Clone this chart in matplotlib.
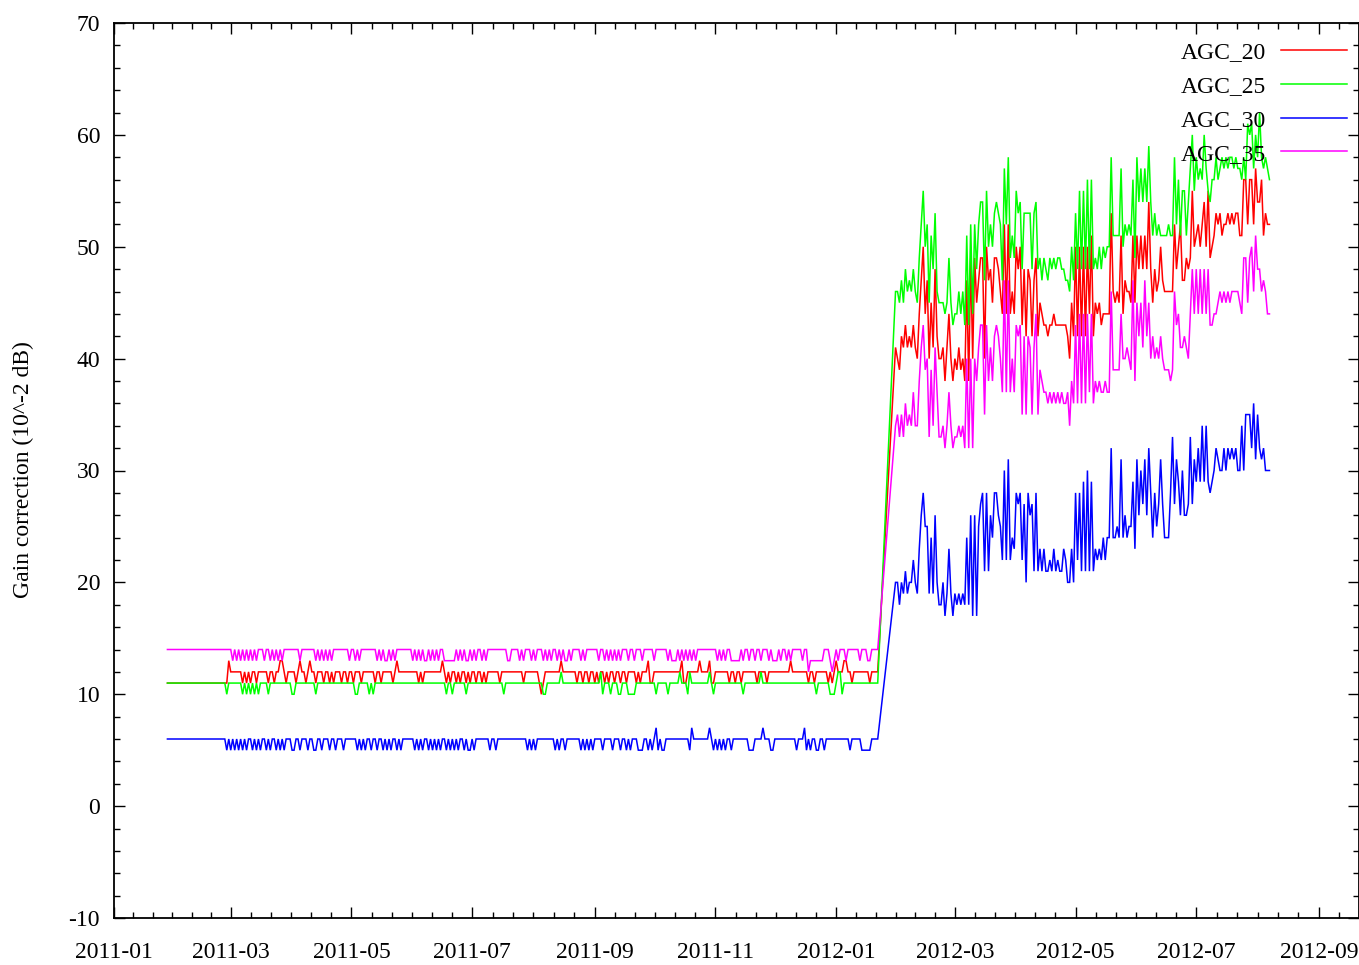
import numpy as np
import matplotlib
matplotlib.use("Agg")
import matplotlib.pyplot as plt
import matplotlib.dates as mdates
from matplotlib.ticker import FixedLocator

plt.rcParams['font.family'] = ['Liberation Serif', 'DejaVu Serif']
plt.rcParams['axes.unicode_minus'] = False

# ---------------------------------------------------------------------------
# Gain correction per AGC setting (10^-2 dB)
# one isolated sample, a daily quiet period, then a daily active period
# ---------------------------------------------------------------------------
first_day = '2011-01-28'
quiet_start = '2011-02-26'
active_start = '2012-01-31'

series_names = ['AGC_20', 'AGC_25', 'AGC_30', 'AGC_35']
series_colors = ['#ff0000', '#00ff00', '#0000ff', '#ff00ff']

agc20_first = 11
agc25_first = 11
agc30_first = 6
agc35_first = 14

agc20_quiet = [
    11, 11, 13, 12, 12, 12, 12, 12, 12, 11,
    12, 11, 12, 11, 12, 12, 11, 12, 12, 12,
    12, 12, 11, 12, 12, 11, 12, 12, 13, 13,
    12, 11, 12, 12, 12, 12, 11, 12, 13, 12,
    12, 11, 12, 13, 12, 12, 11, 12, 12, 12,
    11, 12, 12, 11, 12, 11, 12, 12, 12, 11,
    12, 12, 11, 12, 12, 11, 12, 12, 12, 11,
    12, 12, 12, 12, 12, 12, 11, 12, 12, 11,
    12, 12, 12, 12, 12, 11, 12, 13, 12, 12,
    12, 12, 12, 12, 12, 12, 12, 12, 11, 12,
    11, 12, 12, 12, 12, 12, 12, 12, 12, 12,
    13, 12, 11, 12, 11, 12, 12, 11, 12, 11,
    12, 12, 11, 12, 11, 12, 12, 11, 12, 12,
    11, 12, 11, 12, 12, 12, 12, 12, 12, 11,
    12, 12, 12, 12, 12, 12, 12, 12, 12, 12,
    12, 11, 12, 12, 12, 12, 12, 12, 12, 11,
    10, 11, 12, 12, 12, 12, 12, 12, 12, 12,
    13, 12, 12, 12, 12, 12, 12, 12, 11, 12,
    12, 11, 12, 12, 11, 12, 12, 11, 12, 11,
    12, 12, 11, 12, 11, 12, 12, 11, 12, 12,
    11, 12, 12, 11, 12, 12, 12, 12, 11, 12,
    11, 12, 12, 12, 13, 11, 11, 12, 12, 12,
    12, 12, 12, 12, 12, 12, 12, 12, 12, 12,
    12, 13, 11, 11, 12, 12, 12, 12, 12, 12,
    13, 12, 12, 12, 12, 13, 11, 11, 12, 12,
    12, 12, 12, 12, 12, 11, 12, 12, 11, 12,
    12, 11, 12, 12, 12, 12, 12, 12, 12, 11,
    12, 12, 12, 12, 11, 12, 12, 12, 12, 12,
    12, 12, 12, 12, 12, 12, 13, 12, 12, 12,
    12, 12, 12, 12, 12, 11, 12, 12, 11, 12,
    12, 12, 12, 12, 12, 11, 12, 11, 12, 13,
    12, 12, 12, 13, 13, 12, 12, 11, 12, 12,
    12, 12, 12, 12, 12, 12, 11, 12, 12, 12,
    12,
]

agc25_quiet = [
    11, 10, 11, 11, 11, 11, 11, 11, 11, 10,
    11, 10, 11, 10, 11, 10, 11, 10, 11, 11,
    11, 11, 10, 11, 11, 11, 11, 11, 11, 11,
    11, 11, 11, 11, 10, 10, 11, 11, 11, 11,
    11, 11, 11, 11, 11, 11, 10, 11, 11, 11,
    11, 11, 11, 11, 11, 11, 11, 11, 11, 11,
    11, 11, 11, 11, 11, 11, 10, 10, 11, 11,
    11, 11, 11, 10, 11, 10, 11, 11, 11, 11,
    11, 11, 11, 11, 11, 11, 11, 11, 11, 11,
    11, 11, 11, 11, 11, 11, 11, 11, 11, 11,
    11, 11, 11, 11, 11, 11, 11, 11, 11, 11,
    11, 11, 10, 11, 11, 10, 11, 11, 11, 11,
    11, 11, 10, 11, 11, 11, 11, 11, 11, 11,
    11, 11, 11, 11, 11, 11, 11, 11, 11, 11,
    11, 10, 11, 11, 11, 11, 11, 11, 11, 11,
    11, 11, 11, 11, 11, 11, 11, 11, 11, 11,
    11, 10, 10, 11, 11, 11, 11, 11, 11, 11,
    12, 11, 11, 11, 11, 11, 11, 11, 11, 11,
    11, 11, 11, 11, 11, 11, 11, 11, 11, 11,
    12, 10, 11, 11, 11, 10, 11, 11, 11, 10,
    10, 11, 11, 11, 10, 10, 10, 10, 11, 11,
    11, 11, 11, 11, 11, 11, 11, 11, 10, 11,
    11, 11, 11, 11, 10, 11, 11, 11, 11, 11,
    12, 11, 11, 11, 10, 12, 11, 11, 11, 11,
    11, 11, 11, 11, 11, 12, 11, 10, 11, 11,
    11, 11, 11, 11, 11, 11, 11, 11, 11, 11,
    11, 11, 10, 11, 11, 11, 11, 11, 11, 11,
    11, 12, 11, 11, 11, 11, 11, 11, 11, 11,
    11, 11, 11, 11, 11, 11, 11, 11, 11, 11,
    11, 11, 11, 11, 11, 11, 11, 11, 11, 10,
    11, 11, 11, 11, 11, 11, 10, 10, 10, 11,
    12, 12, 10, 11, 11, 11, 11, 11, 11, 11,
    11, 11, 11, 11, 11, 11, 11, 11, 11, 11,
    11,
]

agc30_quiet = [
    6, 5, 6, 5, 6, 5, 6, 5, 6, 5,
    6, 5, 6, 6, 5, 6, 5, 6, 5, 6,
    6, 5, 6, 5, 6, 6, 5, 6, 5, 6,
    5, 6, 6, 6, 5, 5, 6, 6, 5, 6,
    6, 6, 5, 6, 6, 5, 5, 6, 6, 5,
    6, 6, 6, 5, 6, 6, 5, 6, 6, 6,
    5, 6, 6, 6, 6, 6, 6, 5, 6, 5,
    6, 5, 6, 6, 5, 6, 6, 5, 6, 6,
    5, 6, 5, 6, 5, 6, 6, 5, 6, 5,
    6, 6, 6, 6, 6, 6, 5, 6, 5, 6,
    5, 6, 6, 5, 6, 5, 6, 5, 6, 5,
    6, 6, 5, 6, 5, 6, 5, 6, 5, 6,
    6, 5, 6, 5, 5, 6, 5, 6, 6, 6,
    6, 6, 6, 6, 5, 6, 6, 5, 6, 6,
    6, 6, 6, 6, 6, 6, 6, 6, 6, 6,
    6, 6, 6, 5, 6, 5, 6, 5, 6, 6,
    6, 6, 6, 6, 6, 6, 6, 5, 6, 5,
    6, 6, 5, 6, 6, 6, 6, 6, 6, 6,
    5, 6, 5, 6, 5, 6, 5, 6, 6, 6,
    6, 5, 6, 6, 6, 6, 5, 6, 6, 6,
    5, 6, 6, 5, 6, 5, 6, 6, 6, 5,
    5, 5, 6, 6, 5, 6, 5, 6, 7, 5,
    6, 5, 5, 6, 6, 6, 6, 6, 6, 6,
    6, 6, 6, 6, 6, 5, 7, 6, 6, 6,
    6, 6, 6, 6, 6, 7, 6, 5, 6, 5,
    6, 5, 6, 5, 6, 6, 5, 6, 6, 6,
    6, 6, 6, 6, 6, 5, 5, 5, 6, 6,
    6, 6, 7, 6, 6, 6, 5, 5, 6, 6,
    6, 6, 6, 6, 6, 6, 6, 6, 6, 5,
    6, 6, 6, 7, 5, 6, 5, 6, 6, 5,
    5, 6, 6, 5, 6, 6, 6, 6, 6, 6,
    6, 6, 6, 6, 6, 6, 5, 6, 6, 6,
    6, 6, 5, 5, 5, 5, 5, 6, 6, 6,
    6,
]

agc35_quiet = [
    14, 14, 14, 14, 13, 14, 13, 14, 13, 14,
    13, 14, 13, 14, 13, 14, 13, 14, 14, 14,
    13, 14, 14, 13, 14, 13, 14, 13, 14, 13,
    14, 14, 14, 14, 14, 14, 14, 14, 13, 14,
    14, 14, 14, 14, 14, 14, 13, 14, 13, 14,
    13, 14, 13, 14, 13, 14, 14, 14, 14, 14,
    14, 14, 14, 13, 14, 14, 13, 14, 13, 14,
    14, 14, 14, 14, 14, 14, 14, 13, 14, 13,
    14, 13, 13, 14, 13, 14, 13, 14, 14, 14,
    14, 14, 14, 14, 14, 13, 14, 13, 14, 13,
    14, 13, 13, 14, 13, 14, 13, 14, 13, 14,
    14, 13, 13, 13, 13, 13, 13, 14, 13, 14,
    13, 14, 13, 13, 14, 13, 14, 13, 14, 14,
    13, 14, 13, 14, 14, 14, 14, 14, 14, 14,
    14, 14, 14, 13, 13, 14, 14, 14, 14, 13,
    14, 13, 14, 14, 14, 13, 14, 13, 14, 14,
    14, 13, 14, 13, 14, 13, 14, 14, 13, 14,
    13, 14, 13, 13, 14, 13, 14, 14, 14, 14,
    13, 14, 13, 14, 14, 14, 14, 14, 14, 13,
    14, 14, 13, 14, 13, 14, 13, 14, 13, 14,
    13, 14, 14, 14, 13, 14, 14, 13, 14, 14,
    14, 13, 14, 14, 14, 14, 14, 13, 14, 14,
    14, 14, 14, 14, 13, 14, 13, 13, 13, 14,
    13, 14, 13, 14, 13, 14, 13, 14, 13, 14,
    14, 14, 14, 14, 14, 14, 14, 14, 14, 13,
    14, 13, 14, 13, 14, 14, 13, 13, 13, 13,
    13, 14, 13, 14, 14, 13, 14, 14, 13, 14,
    14, 13, 14, 14, 14, 13, 14, 13, 13, 13,
    14, 13, 14, 14, 13, 14, 13, 14, 14, 14,
    14, 14, 13, 14, 14, 12, 13, 13, 13, 13,
    13, 13, 13, 14, 14, 14, 13, 12, 13, 14,
    13, 14, 14, 14, 13, 14, 14, 14, 14, 14,
    14, 13, 14, 14, 14, 13, 13, 14, 14, 14,
    14,
]

agc20_active = [
    41, 40, 39, 42, 41, 43, 41, 42, 41, 43,
    41, 40, 44, 47, 50, 44, 47, 40, 45, 41,
    48, 42, 40, 40, 41, 38, 41, 44, 40, 38,
    40, 39, 41, 39, 40, 38, 47, 38, 49, 40,
    49, 45, 47, 49, 49, 40, 50, 47, 48, 45,
    49, 49, 48, 46, 44, 52, 44, 52, 44, 46,
    44, 50, 48, 50, 43, 48, 42, 48, 47, 42,
    47, 49, 42, 45, 44, 43, 43, 42, 43, 43,
    44, 43, 43, 43, 43, 43, 43, 42, 40, 45,
    42, 50, 42, 50, 42, 50, 42, 50, 44, 51,
    42, 45, 44, 45, 43, 44, 44, 44, 44, 53,
    46, 45, 46, 45, 51, 44, 47, 46, 46, 45,
    51, 45, 51, 48, 51, 48, 51, 48, 54, 48,
    45, 48, 46, 47, 50, 47, 46, 46, 46, 46,
    46, 52, 48, 50, 52, 47, 47, 49, 48, 49,
    55, 50, 51, 52, 50, 52, 54, 50, 55, 49,
    50, 51, 53, 52, 53, 51, 52, 52, 53, 52,
    53, 52, 53, 53, 51, 51, 56, 56, 52, 56,
    56, 52, 57, 54, 54, 56, 51, 53, 52, 52,
]

agc25_active = [
    46, 46, 45, 47, 45, 48, 46, 47, 46, 48,
    46, 45, 49, 52, 55, 50, 52, 45, 51, 48,
    53, 46, 45, 45, 45, 44, 45, 49, 45, 43,
    44, 44, 46, 44, 46, 43, 51, 43, 52, 44,
    52, 48, 52, 54, 54, 47, 55, 50, 52, 50,
    53, 54, 53, 52, 47, 57, 52, 58, 49, 51,
    49, 55, 53, 54, 48, 53, 53, 53, 53, 48,
    53, 54, 48, 49, 47, 49, 48, 47, 49, 48,
    49, 48, 49, 49, 48, 48, 47, 47, 46, 50,
    47, 53, 48, 55, 48, 55, 48, 56, 48, 56,
    48, 49, 48, 50, 48, 50, 49, 50, 50, 58,
    51, 51, 51, 51, 57, 50, 52, 51, 52, 51,
    56, 49, 58, 54, 57, 54, 57, 54, 59, 54,
    51, 53, 51, 52, 51, 51, 51, 51, 52, 51,
    51, 58, 52, 56, 51, 55, 55, 51, 54, 57,
    60, 55, 58, 56, 57, 56, 60, 57, 55, 54,
    56, 56, 58, 56, 57, 58, 57, 58, 57, 58,
    58, 57, 58, 57, 57, 56, 58, 56, 61, 60,
    61, 57, 60, 58, 62, 58, 57, 58, 57, 56,
]

agc30_active = [
    20, 20, 18, 20, 19, 21, 19, 20, 20, 22,
    20, 19, 23, 26, 28, 25, 25, 19, 24, 19,
    26, 20, 18, 18, 20, 17, 19, 23, 19, 17,
    19, 18, 19, 18, 19, 18, 24, 18, 26, 17,
    26, 17, 25, 27, 28, 21, 28, 21, 26, 24,
    28, 28, 26, 25, 22, 30, 22, 31, 22, 24,
    23, 28, 27, 28, 22, 27, 20, 28, 26, 27,
    21, 28, 21, 23, 21, 23, 21, 21, 22, 21,
    23, 21, 22, 21, 21, 23, 22, 20, 20, 23,
    20, 28, 22, 28, 21, 29, 21, 30, 21, 29,
    21, 23, 22, 23, 22, 24, 22, 24, 24, 32,
    24, 24, 25, 24, 31, 24, 26, 24, 25, 25,
    29, 23, 31, 26, 30, 27, 31, 26, 32, 28,
    24, 28, 25, 27, 31, 27, 24, 24, 24, 28,
    33, 27, 31, 29, 26, 30, 26, 26, 27, 33,
    27, 31, 29, 32, 29, 34, 29, 34, 29, 28,
    29, 30, 32, 31, 30, 30, 32, 30, 32, 31,
    32, 31, 32, 30, 30, 34, 30, 35, 35, 35,
    32, 36, 31, 35, 32, 31, 32, 30, 30, 30,
]

agc35_active = [
    34, 35, 33, 35, 33, 36, 34, 35, 34, 37,
    34, 34, 38, 41, 43, 39, 40, 33, 39, 34,
    41, 37, 33, 33, 34, 32, 34, 37, 34, 32,
    33, 33, 34, 33, 34, 32, 40, 32, 40, 32,
    40, 38, 41, 43, 43, 35, 43, 38, 41, 38,
    42, 43, 42, 40, 37, 47, 37, 47, 37, 40,
    37, 43, 42, 43, 35, 42, 35, 42, 41, 35,
    41, 44, 35, 39, 38, 37, 37, 36, 37, 36,
    37, 36, 37, 36, 37, 36, 36, 37, 34, 38,
    36, 43, 36, 44, 36, 44, 36, 44, 37, 44,
    36, 38, 37, 38, 37, 37, 38, 37, 37, 46,
    39, 39, 39, 39, 44, 40, 40, 41, 40, 39,
    47, 38, 45, 42, 45, 41, 47, 42, 45, 40,
    42, 40, 41, 40, 42, 40, 39, 39, 39, 38,
    39, 46, 43, 44, 41, 41, 42, 41, 40, 44,
    48, 44, 48, 44, 48, 44, 48, 44, 48, 43,
    43, 44, 44, 45, 46, 45, 46, 45, 46, 45,
    46, 46, 46, 46, 45, 44, 49, 49, 45, 49,
    50, 46, 51, 48, 48, 46, 47, 46, 44, 44,
]

y_ticks = [-10, 0, 10, 20, 30, 40, 50, 60, 70]
x_tick_months = ['2011-01', '2011-03', '2011-05', '2011-07', '2011-09', '2011-11',
                 '2012-01', '2012-03', '2012-05', '2012-07', '2012-09']
x_end = '2012-09-21'


def build_series(first, quiet, active):
    d0 = np.array([np.datetime64(first_day)])
    d1 = np.datetime64(quiet_start) + np.arange(len(quiet))
    d2 = np.datetime64(active_start) + np.arange(len(active))
    dates = np.concatenate([d0, d1, d2]).astype('datetime64[D]')
    values = np.array([first] + list(quiet) + list(active), dtype=float)
    return mdates.date2num(dates), values


all_series = [
    build_series(agc20_first, agc20_quiet, agc20_active),
    build_series(agc25_first, agc25_quiet, agc25_active),
    build_series(agc30_first, agc30_quiet, agc30_active),
    build_series(agc35_first, agc35_quiet, agc35_active),
]

FS = 17
W, H = 1359, 965
fig = plt.figure(figsize=(W / 100, H / 100), dpi=100)
ax = fig.add_axes([114 / W, 1 - 918 / H, 1244.5 / W, 895 / H])

for (x, y), name, color in zip(all_series, series_names, series_colors):
    ax.plot(x, y, color=color, lw=1.1, label=name, solid_joinstyle='miter')

# axes ranges and ticks
major_x = [mdates.date2num(np.datetime64(m + '-01')) for m in x_tick_months]
x_lo = major_x[0]
x_hi = mdates.date2num(np.datetime64(x_end))
ax.set_xlim(x_lo, x_hi)
ax.set_ylim(-10, 70)

minor_x = []
for a, b in zip(major_x[:-1], major_x[1:]):
    minor_x.extend(np.linspace(a, b, 7)[1:-1])
step = (major_x[-1] - major_x[-2]) / 6
t = major_x[-1] + step
while t <= x_hi + 0.5:
    minor_x.append(t)
    t += step

ax.xaxis.set_major_locator(FixedLocator(major_x))
ax.xaxis.set_minor_locator(FixedLocator(minor_x))
ax.xaxis.set_major_formatter(mdates.DateFormatter('%Y-%m'))
ax.set_yticks(y_ticks)
ax.yaxis.set_minor_locator(FixedLocator(np.arange(-10, 71, 2)))

ax.tick_params(which='both', direction='in', top=True, right=True,
               labelsize=FS, width=1.0, color='black')
ax.tick_params(which='major', length=8)
ax.tick_params(which='minor', length=4)
ax.tick_params(axis='x', which='major', pad=17)
ax.tick_params(axis='y', which='major', pad=10)
for s in ax.spines.values():
    s.set_linewidth(1.3)

fig.text(23 / W, 1 - 470 / H, 'Gain correction (10^-2 dB)', rotation=90,
         ha='center', va='center', fontsize=FS)

leg = ax.legend(loc='upper right', bbox_to_anchor=(0.9905, 0.979),
                frameon=False, markerfirst=False, fontsize=FS,
                handlelength=2.8, handletextpad=0.62, labelspacing=0.52,
                borderaxespad=0, borderpad=0)

fig.savefig('out.png', dpi=100)
